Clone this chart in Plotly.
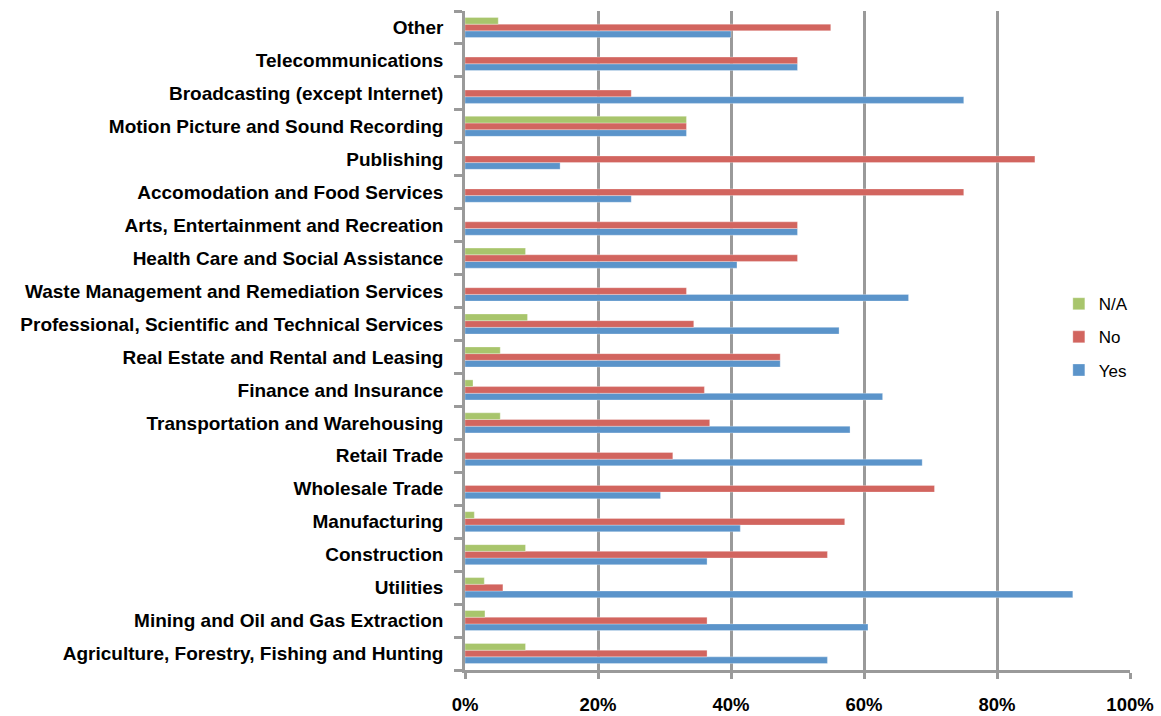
import plotly.graph_objects as go

# Industry categories, listed bottom to top as they appear on the axis
industries = [
    "Agriculture, Forestry, Fishing and Hunting",
    "Mining and Oil and Gas Extraction",
    "Utilities",
    "Construction",
    "Manufacturing",
    "Wholesale Trade",
    "Retail Trade",
    "Transportation and Warehousing",
    "Finance and Insurance",
    "Real Estate and Rental and Leasing",
    "Professional, Scientific and Technical Services",
    "Waste Management and Remediation Services",
    "Health Care and Social Assistance",
    "Arts, Entertainment and Recreation",
    "Accomodation and Food Services",
    "Publishing",
    "Motion Picture and Sound Recording",
    "Broadcasting (except Internet)",
    "Telecommunications",
    "Other",
]

# Share of responses per industry (fractions)
yes_share = [0.545, 0.606, 0.914, 0.364, 0.414, 0.294, 0.6875, 0.579, 0.628, 0.474,
             0.5625, 0.667, 0.409, 0.50, 0.25, 0.143, 0.333, 0.75, 0.50, 0.40]
no_share = [0.364, 0.364, 0.057, 0.545, 0.571, 0.706, 0.3125, 0.368, 0.360, 0.474,
            0.344, 0.333, 0.50, 0.50, 0.75, 0.857, 0.333, 0.25, 0.50, 0.55]
na_share = [0.091, 0.030, 0.029, 0.091, 0.014, 0.0, 0.0, 0.053, 0.012, 0.053,
            0.094, 0.0, 0.091, 0.0, 0.0, 0.0, 0.333, 0.0, 0.0, 0.05]

# (name, values, colour, legend rank)
series = [
    ("Yes", yes_share, "#5B94CA", 3),
    ("No", no_share, "#D2655F", 2),
    ("N/A", na_share, "#A8C56C", 1),
]

fig = go.Figure()
for name, vals, color, rank in series:
    fig.add_trace(go.Bar(
        y=industries,
        x=vals,
        name=name,
        orientation="h",
        legendgroup=name,
        legendrank=rank,
        marker=dict(color=color, line=dict(color="rgba(255,255,255,0.5)", width=0.6)),
    ))

grid_gray = "#9A9A9A"
fig.update_layout(
    width=1161,
    height=716,
    barmode="group",
    bargap=0.39,
    bargroupgap=0,
    plot_bgcolor="white",
    paper_bgcolor="white",
    margin=dict(l=465, r=31, t=11, b=46),
    font=dict(family="Liberation Sans", color="black"),
    legend=dict(
        x=0.893, y=0.505, xanchor="left", yanchor="middle",
        traceorder="grouped",
        tracegroupgap=8,
        font=dict(size=17, family="Liberation Sans"),
        bgcolor="rgba(0,0,0,0)",
        itemwidth=30,
    ),
    xaxis=dict(
        range=[0, 1],
        tickvals=[0, 0.2, 0.4, 0.6, 0.8, 1.0],
        tickformat=".0%",
        automargin=False,
        showgrid=True,
        gridcolor=grid_gray,
        gridwidth=2.5,
        zeroline=False,
        showline=True,
        linecolor=grid_gray,
        linewidth=2.5,
        ticks="outside",
        ticklen=6,
        tickwidth=2.5,
        tickcolor=grid_gray,
        ticklabelstandoff=10,
        tickfont=dict(size=18.5, family="Liberation Sans", weight="bold"),
    ),
    yaxis=dict(
        type="category",
        categoryorder="array",
        categoryarray=industries,
        automargin=False,
        showline=True,
        linecolor=grid_gray,
        linewidth=2.5,
        ticks="outside",
        tickson="boundaries",
        ticklen=8,
        tickwidth=2.5,
        tickcolor=grid_gray,
        ticklabelstandoff=15,
        showgrid=False,
        tickfont=dict(size=19, family="Liberation Sans", weight="bold"),
    ),
)

fig.write_html("out.html")
